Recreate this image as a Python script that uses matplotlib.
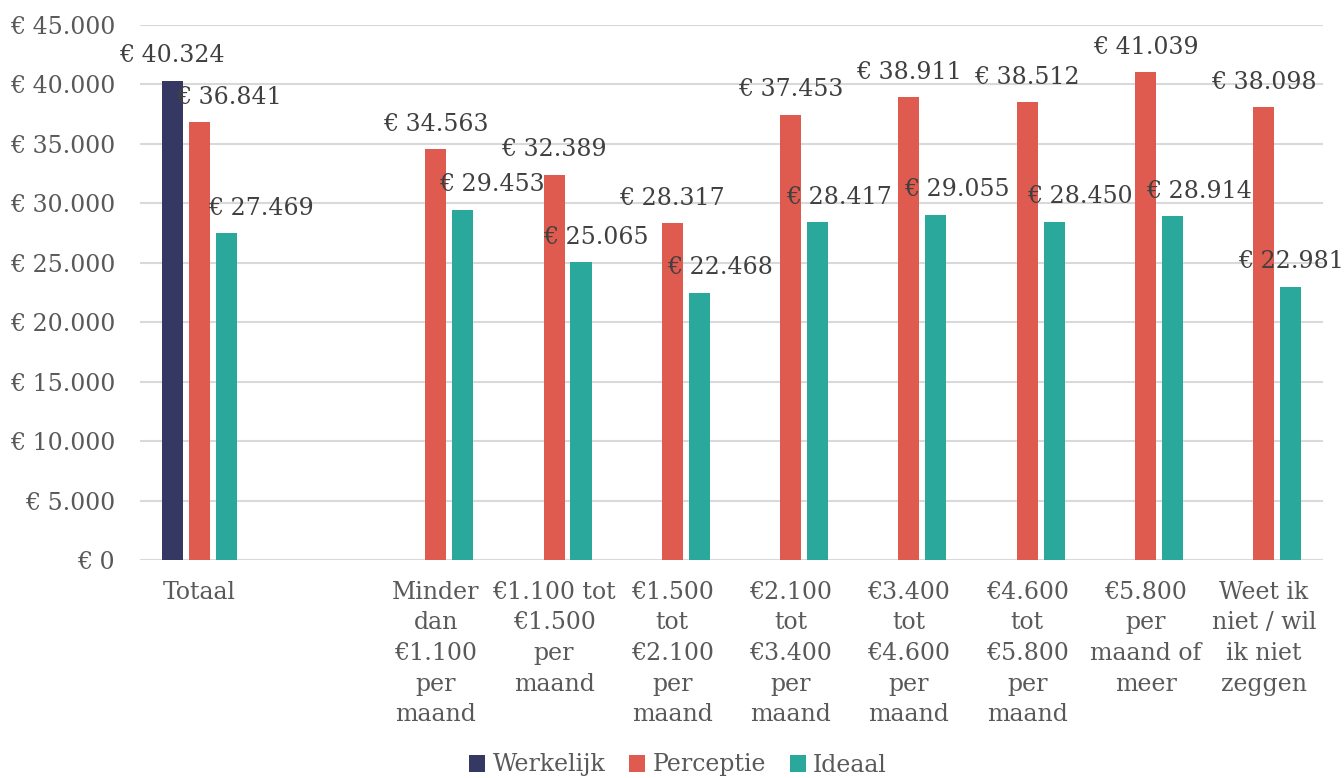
import numpy as np
import matplotlib.pyplot as plt

# Gegevens
categorieen = ["Totaal", "",
               "Minder\ndan\n€1.100\nper\nmaand",
               "€1.100 tot\n€1.500\nper\nmaand",
               "€1.500\ntot\n€2.100\nper\nmaand",
               "€2.100\ntot\n€3.400\nper\nmaand",
               "€3.400\ntot\n€4.600\nper\nmaand",
               "€4.600\ntot\n€5.800\nper\nmaand",
               "€5.800\nper\nmaand of\nmeer",
               "Weet ik\nniet / wil\nik niet\nzeggen"]
werkelijk = [40324, None, None, None, None, None, None, None, None, None]
perceptie = [36841, None, 34563, 32389, 28317, 37453, 38911, 38512, 41039, 38098]
ideaal = [27469, None, 29453, 25065, 22468, 28417, 29055, 28450, 28914, 22981]

# horizontale verschuiving van de labels (pixels), zoals in het origineel
dx_werkelijk = [0] * 10
dx_perceptie = [30, 0, 0, 0, 0, 0, 0, 0, 0, 0]
dx_ideaal = [35, 0, 29, 15, 21, 21, 21, 26, 26, 0]

kleuren = {"Werkelijk": "#363864", "Perceptie": "#DF5B4F", "Ideaal": "#2AA89C"}

plt.rcParams['font.family'] = ['DejaVu Serif']

def euro(v):
    return "€ " + f"{v:,.0f}".replace(",", ".")

fig = plt.figure(figsize=(13.44, 7.78), dpi=100)
ax = fig.add_axes([140/1344, 1-560/778, (1323-140)/1344, (560-25)/778])

x = np.arange(len(categorieen))
breedte = 0.178
stap = 0.228

reeksen = [("Werkelijk", werkelijk, dx_werkelijk, -stap),
           ("Perceptie", perceptie, dx_perceptie, 0),
           ("Ideaal", ideaal, dx_ideaal, stap)]

for naam, waarden, dxs, offset in reeksen:
    xs = [xi + offset for xi, v in zip(x, waarden) if v is not None]
    vs = [v for v in waarden if v is not None]
    dd = [d for d, v in zip(dxs, waarden) if v is not None]
    ax.bar(xs, vs, breedte, color=kleuren[naam], label=naam, zorder=3)
    for xi, v, d in zip(xs, vs, dd):
        ax.annotate(euro(v), xy=(xi, v), xytext=(d, 25), textcoords="offset pixels",
                    ha='center', va='center', fontsize=17, color="#404040", zorder=4)

ax.set_xlim(-0.5, len(categorieen) - 0.5)
ax.set_ylim(0, 45000)
ax.set_yticks(np.arange(0, 45001, 5000))
ax.set_yticklabels([euro(v) for v in np.arange(0, 45001, 5000)])
ax.set_xticks(x)
ax.set_xticklabels(categorieen, linespacing=1.42)
ax.tick_params(axis='y', length=0, pad=18, labelsize=17, labelcolor="#595959")
ax.tick_params(axis='x', length=0, pad=15, labelsize=17, labelcolor="#595959")
ax.grid(axis='y', color="#D9D9D9", linewidth=1.5, zorder=0)
for s in ax.spines.values():
    s.set_visible(False)

fig.legend(*ax.get_legend_handles_labels(), loc='center', bbox_to_anchor=(678/1344, 1-765/778),
           ncol=3, frameon=False, fontsize=17, handlelength=0.7, handleheight=0.7,
           handletextpad=0.3, columnspacing=1.0, labelcolor="#595959")

plt.savefig("out.png", dpi=100)
